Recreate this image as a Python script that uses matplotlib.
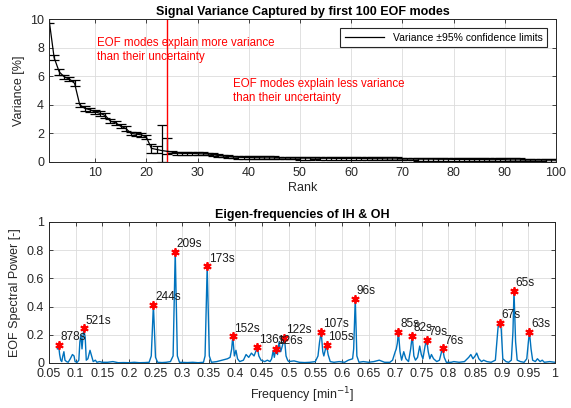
import numpy as np
import matplotlib
matplotlib.use("Agg")
import matplotlib.pyplot as plt
from matplotlib.lines import Line2D

plt.rcParams['font.family'] = ['Liberation Sans', 'DejaVu Sans']

# ---- top panel: variance captured per EOF rank ----
rank = np.arange(1, 101)
variance = [10.0, 7.3, 6.3, 5.95, 5.8, 5.5, 4.0, 3.75, 3.65, 3.5,
            3.4, 3.25, 2.85, 2.75, 2.5, 2.35, 2.0, 1.95, 1.9, 1.75,
            0.95, 0.88, 0.8, 0.75, 0.7, 0.62, 0.6, 0.6, 0.6, 0.58,
            0.57, 0.56, 0.52, 0.45, 0.42, 0.38, 0.35, 0.33, 0.32, 0.31,
            0.3, 0.3, 0.29, 0.29, 0.29, 0.28, 0.28, 0.28, 0.28, 0.27,
            0.27, 0.27, 0.28, 0.26, 0.26, 0.26, 0.25, 0.25, 0.25, 0.25,
            0.26, 0.24, 0.24, 0.23, 0.23, 0.23, 0.22, 0.22, 0.22, 0.21,
            0.21, 0.21, 0.2, 0.2, 0.2, 0.2, 0.19, 0.19, 0.19, 0.18,
            0.18, 0.18, 0.17, 0.17, 0.17, 0.17, 0.16, 0.16, 0.17, 0.16,
            0.15, 0.15, 0.15, 0.14, 0.14, 0.14, 0.14, 0.13, 0.13, 0.13]
err_low = [0.3, 0.2, 0.2, 0.15, 0.15, 0.2, 0.15, 0.15, 0.15, 0.15,
           0.15, 0.15, 0.15, 0.15, 0.15, 0.15, 0.12, 0.12, 0.12, 0.15,
           0.3, 0.25, 0.8, 0.2] + [0.1] * 76
err_high = [0.3, 0.2, 0.2, 0.15, 0.15, 0.2, 0.15, 0.15, 0.15, 0.15,
            0.15, 0.15, 0.15, 0.15, 0.15, 0.15, 0.12, 0.12, 0.12, 0.15,
            0.3, 0.25, 1.8, 0.9] + [0.1] * 76
cut_rank = 24

# ---- bottom panel: EOF spectrum ----
freq = [0.066, 0.068, 0.070, 0.072, 0.074, 0.076, 0.078, 0.080, 0.083, 0.086,
        0.090, 0.094, 0.097, 0.099, 0.103, 0.106, 0.108, 0.110, 0.112, 0.1152,
        0.118, 0.120, 0.123, 0.127, 0.130, 0.133, 0.137, 0.140, 0.145, 0.150,
        0.160, 0.170, 0.180, 0.190, 0.200, 0.210, 0.220, 0.230, 0.238, 0.242,
        0.246, 0.250, 0.254, 0.262, 0.270, 0.278, 0.283, 0.287, 0.291, 0.295,
        0.310, 0.320, 0.330, 0.340, 0.343, 0.347, 0.351, 0.355, 0.365, 0.375,
        0.385, 0.390, 0.393, 0.395, 0.398, 0.401, 0.404, 0.408, 0.415, 0.420,
        0.425, 0.430, 0.435, 0.438, 0.441, 0.444, 0.448, 0.455, 0.460, 0.465,
        0.468, 0.471, 0.473, 0.476, 0.479, 0.482, 0.485, 0.488, 0.492, 0.495,
        0.498, 0.500, 0.510, 0.520, 0.530, 0.540, 0.550, 0.555, 0.558, 0.561,
        0.564, 0.566, 0.569, 0.571, 0.574, 0.578, 0.585, 0.595, 0.605, 0.612,
        0.620, 0.622, 0.625, 0.628, 0.632, 0.640, 0.650, 0.660, 0.670, 0.680,
        0.690, 0.695, 0.700, 0.702, 0.704, 0.706, 0.709, 0.712, 0.716, 0.720,
        0.725, 0.729, 0.732, 0.735, 0.738, 0.742, 0.746, 0.749, 0.752, 0.756,
        0.759, 0.762, 0.765, 0.768, 0.772, 0.778, 0.783, 0.787, 0.789, 0.792,
        0.796, 0.805, 0.810, 0.820, 0.830, 0.838, 0.842, 0.846, 0.850, 0.853,
        0.857, 0.862, 0.866, 0.872, 0.880, 0.888, 0.893, 0.896, 0.899, 0.902,
        0.908, 0.913, 0.918, 0.921, 0.923, 0.926, 0.929, 0.935, 0.942, 0.947,
        0.950, 0.952, 0.955, 0.958, 0.963, 0.967, 0.972, 0.976, 0.980, 0.990,
        1.000]
power = [0.10, 0.13, 0.06, 0.02, 0.01, 0.05, 0.08, 0.02, 0.01, 0.005,
         0.03, 0.06, 0.05, 0.01, 0.005, 0.02, 0.15, 0.20, 0.10, 0.245,
         0.18, 0.02, 0.03, 0.09, 0.05, 0.01, 0.02, 0.005, 0.01, 0.005,
         0.005, 0.01, 0.002, 0.003, 0.002, 0.005, 0.002, 0.003, 0.005, 0.05,
         0.41, 0.04, 0.005, 0.003, 0.005, 0.01, 0.05, 0.79, 0.05, 0.005,
         0.003, 0.005, 0.002, 0.005, 0.05, 0.685, 0.05, 0.005, 0.01, 0.02,
         0.03, 0.04, 0.10, 0.19, 0.05, 0.09, 0.03, 0.01, 0.02, 0.06,
         0.04, 0.07, 0.05, 0.08, 0.11, 0.05, 0.02, 0.01, 0.02, 0.01,
         0.03, 0.09, 0.04, 0.10, 0.06, 0.15, 0.08, 0.12, 0.18, 0.05,
         0.02, 0.01, 0.015, 0.005, 0.003, 0.005, 0.01, 0.05, 0.15, 0.22,
         0.08, 0.05, 0.10, 0.13, 0.06, 0.01, 0.005, 0.01, 0.005, 0.02,
         0.03, 0.10, 0.455, 0.05, 0.005, 0.01, 0.005, 0.01, 0.02, 0.005,
         0.005, 0.02, 0.08, 0.10, 0.14, 0.22, 0.08, 0.02, 0.08, 0.03,
         0.01, 0.10, 0.195, 0.05, 0.02, 0.04, 0.12, 0.06, 0.03, 0.12,
         0.165, 0.08, 0.03, 0.06, 0.03, 0.01, 0.02, 0.08, 0.105, 0.04,
         0.005, 0.005, 0.01, 0.005, 0.01, 0.04, 0.06, 0.03, 0.05, 0.07,
         0.03, 0.01, 0.02, 0.01, 0.005, 0.02, 0.25, 0.285, 0.24, 0.03,
         0.01, 0.005, 0.02, 0.22, 0.51, 0.15, 0.02, 0.01, 0.005, 0.03,
         0.15, 0.22, 0.10, 0.02, 0.01, 0.03, 0.01, 0.02, 0.005, 0.01,
         0.005]

peak_freq = [0.0683, 0.1152, 0.246, 0.287, 0.347, 0.395, 0.441, 0.476, 0.492,
             0.561, 0.571, 0.625, 0.706, 0.732, 0.759, 0.789, 0.896, 0.923, 0.952]
peak_power = [0.13, 0.245, 0.41, 0.79, 0.685, 0.19, 0.11, 0.10, 0.18,
              0.22, 0.13, 0.455, 0.22, 0.195, 0.165, 0.105, 0.285, 0.51, 0.22]
peak_labels = ['878s', '521s', '244s', '209s', '173s', '152s', '136s', '126s', '122s',
               '107s', '105s', '96s', '85s', '82s', '79s', '76s', '67s', '65s', '63s']

axcol = '#262626'
fs = 9

fig = plt.figure(figsize=(5.71, 4.08), dpi=100)
ax1 = fig.add_axes([0.0858, 0.603, 0.8879, 0.3504])
ax2 = fig.add_axes([0.0858, 0.1103, 0.8862, 0.3456])

# top panel
ax1.errorbar(rank, variance, yerr=[err_low, err_high], color='k', lw=0.9,
             elinewidth=0.9, capsize=3.8, capthick=0.9)
ax1.axvline(cut_rank, color='red', lw=1)
ax1.text(10.3, 7.1, 'EOF modes explain more variance\nthan their uncertainty',
         color='red', fontsize=8.3, linespacing=1.3)
ax1.text(37, 4.25, 'EOF modes explain less variance\nthan their uncertainty',
         color='red', fontsize=8.3, linespacing=1.3)
ax1.set_xlim(1, 100)
ax1.set_ylim(0, 10)
ax1.set_xticks(np.arange(10, 101, 10))
ax1.set_yticks(np.arange(0, 11, 2))
ax1.set_xlabel('Rank', fontsize=fs, color=axcol, labelpad=2)
ax1.set_ylabel('Variance [%]', fontsize=fs, color=axcol, labelpad=4)
ax1.set_title('Signal Variance Captured by first 100 EOF modes', fontsize=9,
              fontweight='bold', pad=3)
handle = Line2D([], [], color='k', lw=0.9)
leg = ax1.legend([handle], ['Variance \u00b195% confidence limits'],
                 loc='upper right', fontsize=7.5, fancybox=False, framealpha=1,
                 edgecolor=axcol, handlelength=3.8, borderaxespad=0.9)
leg.get_frame().set_linewidth(0.8)

# bottom panel
ax2.plot(freq, power, color='#0072BD', lw=1)
ax2.plot(peak_freq, peak_power, ls='none', marker=(6, 2, 0), color='red',
         markersize=6, markeredgewidth=1.3)
ax2.plot(peak_freq, peak_power, ls='none', marker='o', color='red',
         markersize=3)
for f, p, lab in zip(peak_freq, peak_power, peak_labels):
    ax2.text(f + 0.003, p + 0.012, lab, fontsize=8.5, color='#1a1a1a',
             ha='left', va='bottom')
ax2.set_xlim(0.05, 1)
ax2.set_ylim(0, 1)
xt = np.round(np.arange(0.05, 1.001, 0.05), 2)
ax2.set_xticks(xt)
ax2.set_xticklabels(['%g' % v for v in xt])
ax2.set_yticks(np.round(np.arange(0, 1.01, 0.2), 1))
ax2.set_yticklabels(['0', '0.2', '0.4', '0.6', '0.8', '1'])
ax2.set_xlabel('Frequency [min$^{-1}$]', fontsize=fs, color=axcol, labelpad=4)
ax2.set_ylabel('EOF Spectral Power [-]', fontsize=fs, color=axcol, labelpad=4)
ax2.set_title('Eigen-frequencies of IH & OH', fontsize=9, fontweight='bold', pad=3)

for ax in (ax1, ax2):
    ax.grid(True, color='#dcdcdc', lw=0.6)
    ax.set_axisbelow(True)
    ax.tick_params(direction='in', top=True, right=True, labelsize=fs,
                   colors=axcol, length=3, width=0.6)
    for s in ax.spines.values():
        s.set_color(axcol)
        s.set_linewidth(0.7)

fig.savefig('out.png', dpi=100)
